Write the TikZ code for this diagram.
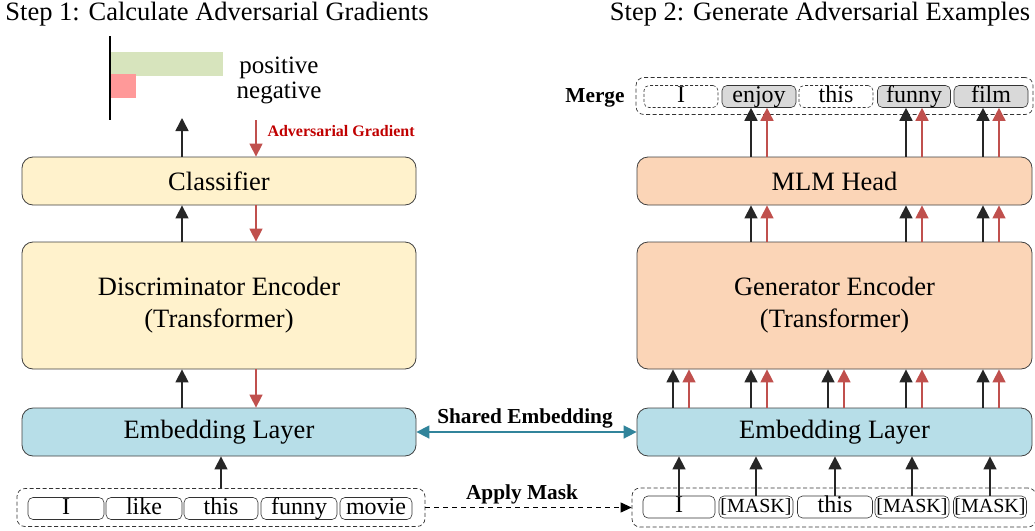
\documentclass[tikz,border=0pt]{standalone}
\usepackage{fontspec}
\setmainfont{Liberation Serif}
\usetikzlibrary{arrows.meta,calc}
\definecolor{yelfill}{HTML}{FFF2CC}
\definecolor{pchfill}{HTML}{FBD5B7}
\definecolor{blufill}{HTML}{B7DEE8}
\definecolor{redar}{HTML}{C0504D}
\definecolor{tealar}{HTML}{31849B}
\definecolor{gryfill}{HTML}{D9D9D9}
\definecolor{grnbar}{HTML}{D7E4BD}
\definecolor{pnkbar}{HTML}{FF9999}
\definecolor{dredtxt}{HTML}{C00000}
\newcommand\fbig{\fontsize{26.5}{32}\selectfont}
\newcommand\ftok{\fontsize{24}{26}\selectfont}
\newcommand\fmask{\fontsize{20}{22}\selectfont}
\newcommand\flab{\fontsize{21.3}{24}\selectfont\bfseries}
\begin{document}
\begin{tikzpicture}[x=1pt,y=-1pt,
  layer/.style={draw=black!75, rounded corners=11pt, line width=0.8pt, inner sep=0pt, font=\fbig, align=center},
  tok/.style={draw=black!80, rounded corners=5pt, line width=0.6pt, minimum height=22pt, text height=16.5pt, text depth=5.5pt, inner sep=0pt, font=\ftok},
  dtok/.style={tok, dashed, dash pattern=on 3pt off 2pt},
  gtok/.style={tok, fill=gryfill},
  grp/.style={draw=black!80, dashed, dash pattern=on 4pt off 2.5pt, rounded corners=8pt, line width=0.7pt, inner sep=0pt},
  blk/.style={draw=black!85, line width=1.5pt, -{Triangle[length=13pt,width=13pt]}},
  rd/.style={draw=redar, line width=1.5pt, -{Triangle[length=13pt,width=13pt]}},
]
\useasboundingbox (0,0) rectangle (1035,530);

% titles
\node[font=\fbig] (title1) at (217,14) {Step 1: Calculate Adversarial Gradients};
\node[font=\fbig] (title2) at (820,14) {Step 2: Generate Adversarial Examples};

% bar chart
\fill[grnbar] (110,52) rectangle (223,76);
\fill[pnkbar] (110,74) rectangle (136,98);
\draw[line width=1.4pt] (110,36) -- (110,120);
\node[font=\fontsize{25}{27}\selectfont] (pos) at (279,68) {positive};
\node[font=\fontsize{25}{27}\selectfont] (neg) at (279,93) {negative};
\coordinate (barbase) at (182,118);
\coordinate (gradtop) at (256,120);

% left column
\node[layer, fill=yelfill, minimum width=394pt, minimum height=48pt] (cls) at (219,181) {Classifier};
\node[layer, fill=yelfill, minimum width=394pt, minimum height=127pt] (disc) at (219,305.5) {Discriminator Encoder\\(Transformer)};
\node[layer, fill=blufill, minimum width=394pt, minimum height=48pt] (embL) at (219,432) {Embedding Layer};

% right column
\node[layer, fill=pchfill, minimum width=395pt, minimum height=48pt] (mlm) at (834.5,181) {MLM Head};
\node[layer, fill=pchfill, minimum width=395pt, minimum height=127pt] (gen) at (834.5,305.5) {Generator Encoder\\(Transformer)};
\node[layer, fill=blufill, minimum width=395pt, minimum height=48pt] (embR) at (834.5,432) {Embedding Layer};

% left input tokens
\node[grp, minimum width=408pt, minimum height=38pt] (inL) at (221,507.5) {};
\node[tok, minimum width=76pt] (l1) at (66,508.5) {I};
\node[tok, minimum width=76pt] (l2) at (144,508.5) {like};
\node[tok, minimum width=74pt] (l3) at (221,508.5) {this};
\node[tok, minimum width=76pt] (l4) at (299,508.5) {funny};
\node[tok, minimum width=72pt] (l5) at (376,508.5) {movie};

% right input tokens
\node[grp, minimum width=404pt, minimum height=39pt] (inR) at (834,507.5) {};
\node[tok, minimum width=72pt] (r1) at (679,507) {I};
\node[tok, minimum width=74pt, font=\fmask] (r2) at (756,507) {[MASK]};
\node[tok, minimum width=75pt] (r3) at (835,507) {this};
\node[tok, minimum width=74pt, font=\fmask] (r4) at (912,507) {[MASK]};
\node[tok, minimum width=73pt, font=\fmask] (r5) at (990,507) {[MASK]};

% merge tokens
\node[grp, minimum width=397pt, minimum height=37pt] (mg) at (834.5,96) {};
\node[dtok, minimum width=74pt] (m1) at (681,96.5) {I};
\node[gtok, minimum width=74pt] (m2) at (759,96.5) {enjoy};
\node[dtok, minimum width=74pt] (m3) at (836,96.5) {this};
\node[gtok, minimum width=73pt] (m4) at (914,96.5) {funny};
\node[gtok, minimum width=74pt] (m5) at (991,96.5) {film};
\node[font=\flab] (mglab) at (595,98) {Merge};

% left arrows
\draw[blk] ($(cls.north)+(-37,0)$) -- (barbase);
\draw[rd] (gradtop) -- ($(cls.north)+(37,0)$);
\node[font=\fontsize{16}{18}\selectfont\bfseries, text=dredtxt, anchor=west] (advlab) at (264,131) {Adversarial Gradient};
\draw[blk] ($(disc.north)+(-37,0)$) -- ($(cls.south)+(-37,0)$);
\draw[rd] ($(cls.south)+(37,0)$) -- ($(disc.north)+(37,0)$);
\draw[blk] ($(embL.north)+(-37,0)$) -- ($(disc.south)+(-37,0)$);
\draw[rd] ($(disc.south)+(37,0)$) -- ($(embL.north)+(37,0)$);
\draw[blk] (inL.north) -- (embL.south -| inL.north);

% right arrows: input -> embedding
\foreach \t in {r1,r2,r3,r4,r5}{
  \draw[blk] (\t.north) -- (embR.south -| \t.north);
}
% embedding -> generator
\foreach \t in {m1,m2,m3,m4,m5}{
  \draw[blk] ($(embR.north -| \t.south)+(-8,0)$) -- ($(gen.south -| \t.south)+(-8,0)$);
  \draw[rd] ($(embR.north -| \t.south)+(8,0)$) -- ($(gen.south -| \t.south)+(8,0)$);
}
% generator -> mlm -> merge
\foreach \t in {m2,m4,m5}{
  \draw[blk] ($(gen.north -| \t.south)+(-8,0)$) -- ($(mlm.south -| \t.south)+(-8,0)$);
  \draw[rd] ($(gen.north -| \t.south)+(8,0)$) -- ($(mlm.south -| \t.south)+(8,0)$);
  \draw[blk] ($(mlm.north -| \t.south)+(-8,0)$) -- ($(\t.south)+(-8,0)$);
  \draw[rd] ($(mlm.north -| \t.south)+(8,0)$) -- ($(\t.south)+(8,0)$);
}

% shared embedding
\draw[draw=tealar, line width=1.6pt, {Triangle[length=13pt,width=13pt]}-{Triangle[length=13pt,width=13pt]}] (embL.east) -- (embR.west);
\node[font=\flab] (shlab) at (525,418) {Shared Embedding};

% apply mask
\draw[line width=1pt, dashed, dash pattern=on 5pt off 4pt, -{Triangle[length=11pt,width=10pt]}] (inL.east) -- (inR.west);
\node[font=\flab] (amlab) at (522,494) {Apply Mask};
\end{tikzpicture}
\end{document}
